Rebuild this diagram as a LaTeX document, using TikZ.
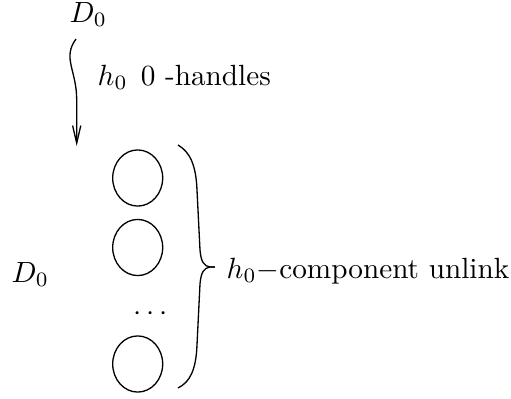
\documentclass[tikz,border=0pt]{standalone}
\usetikzlibrary{arrows.meta,shapes.geometric}
\begin{document}
\begin{tikzpicture}[x=0.342pt,y=-0.342pt, line width=0.45pt,
  comp/.style={draw, ellipse, inner sep=0pt, minimum width=17.1pt, minimum height=19.2pt},
  lbl/.style={inner sep=0pt, anchor=base west}]
\useasboundingbox (0,0) rectangle (511,398);
\node[lbl] (Dtop) at (69,22) {$D_0$};
\node[lbl] (Dleft) at (11,282) {$D_0$};
\node[lbl] (h) at (97,85) {$h_0$\hspace{4.5pt}0 -handles};
\coordinate (a0) at (76,39);
\coordinate (a1) at (76.7,146);
\draw[-{Straight Barb[length=6pt,width=2.8pt]}] (a0) .. controls (62,58) and (76.7,70) .. (76.7,100) -- (a1);
\node[comp] (c1) at (137.7,178) {};
\node[comp] (c2) at (137.7,247.5) {};
\node[comp] (c3) at (137.7,364) {};
\node[inner sep=0pt, anchor=base] (dots) at (150.5,320) {$\cdots$};
\coordinate (b0) at (178,145);
\coordinate (bt) at (215,267);
\coordinate (b1) at (178,388);
\draw (b0) .. controls (190,152) and (196,165) .. (197,190) -- (200,250)
  .. controls (201,262) and (204,266) .. (210,267) -- (bt);
\draw (bt) -- (210,267) .. controls (204,268) and (201,272) .. (200,284)
  -- (197,345) .. controls (196,370) and (190,382) .. (b1);
\node[lbl] (u) at (226,278) {$h_0-$component unlink};
\end{tikzpicture}
\end{document}
